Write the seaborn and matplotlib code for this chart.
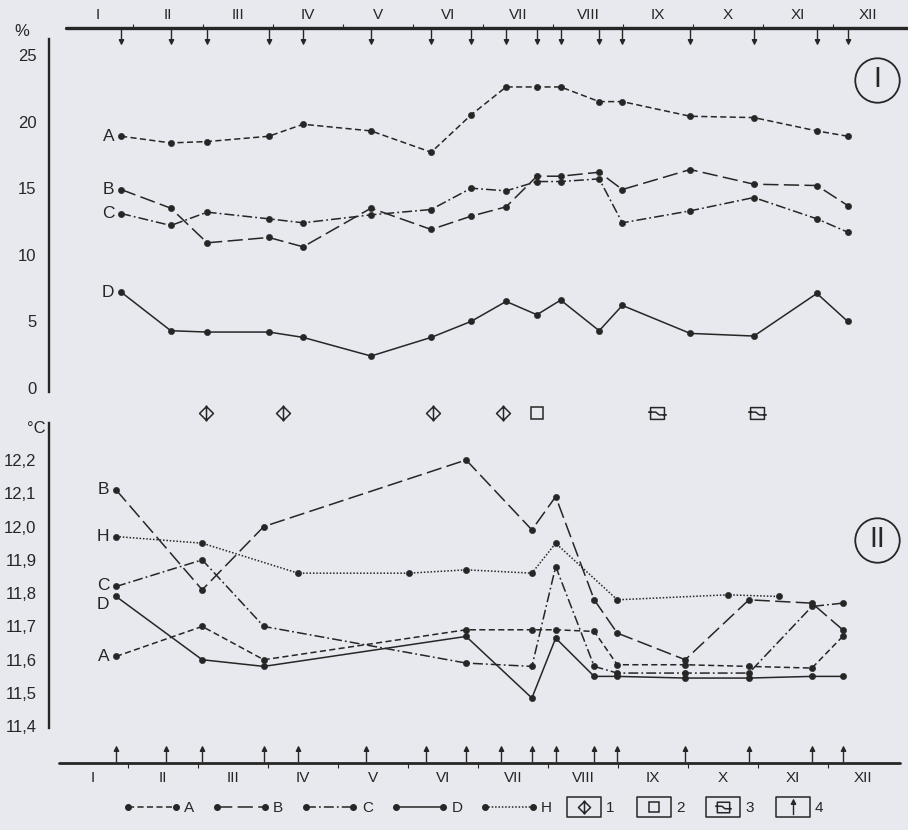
import numpy as np
import pandas as pd
import matplotlib
matplotlib.use("Agg")
import matplotlib.pyplot as plt
import seaborn as sns
from matplotlib.path import Path
from matplotlib.lines import Line2D
from matplotlib.legend_handler import HandlerTuple

sns.set_theme(style="white")
plt.rcParams['font.family'] = ['Liberation Sans', 'DejaVu Sans']

# sampling dates, in months from 1 January
sample_months = [0.83, 1.54, 2.06, 2.94, 3.43, 4.40, 5.26, 5.83, 6.33,
                 6.77, 7.11, 7.66, 7.99, 8.96, 9.87, 10.77, 11.21]
month_names = ['I', 'II', 'III', 'IV', 'V', 'VI', 'VII', 'VIII', 'IX', 'X', 'XI', 'XII']

# panel I  (%)
top_A = [18.9, 18.4, 18.5, 18.9, 19.8, 19.3, 17.7, 20.5, 22.6, 22.6, 22.6, 21.5, 21.5, 20.4, 20.3, 19.3, 18.9]
top_B = [14.9, 13.5, 10.9, 11.3, 10.6, 13.5, 11.9, 12.9, 13.6, 15.9, 15.9, 16.2, 14.9, 16.4, 15.3, 15.2, 13.7]
top_C = [13.1, 12.2, 13.2, 12.7, 12.4, 13.0, 13.4, 15.0, 14.8, 15.5, 15.5, 15.7, 12.4, 13.3, 14.3, 12.7, 11.7]
top_D = [7.2, 4.3, 4.2, 4.2, 3.8, 2.4, 3.8, 5.0, 6.5, 5.5, 6.6, 4.3, 6.2, 4.1, 3.9, 7.1, 5.0]

# panel II  (deg C), A-D on a subset of the dates, H on its own dates
bottom_idx = [0, 2, 3, 7, 9, 10, 11, 12, 13, 14, 15, 16]
bot_A = [11.61, 11.70, 11.60, 11.69, 11.69, 11.69, 11.685, 11.585, 11.585, 11.58, 11.575, 11.67]
bot_B = [12.11, 11.81, 12.00, 12.20, 11.99, 12.09, 11.78, 11.68, 11.60, 11.78, 11.77, 11.69]
bot_C = [11.82, 11.90, 11.70, 11.59, 11.58, 11.88, 11.58, 11.56, 11.56, 11.56, 11.76, 11.77]
bot_D = [11.79, 11.60, 11.58, 11.67, 11.485, 11.665, 11.55, 11.55, 11.545, 11.545, 11.55, 11.55]
h_months = [0.83, 2.06, 3.43, 5.01, 5.83, 6.77, 7.11, 7.99, 9.57, 10.30]
h_vals = [11.97, 11.95, 11.86, 11.86, 11.87, 11.86, 11.95, 11.78, 11.795, 11.79]

# events between the panels
event1 = [2.04, 3.14, 5.29, 6.29]
event2 = [6.77]
event3 = [8.49, 9.91]

BG = '#e8e9ef'
INK = '#262626'
DASHES = {'A': (4, 2.2), 'B': (10, 3.5), 'C': (6.5, 2, 1.2, 2), 'D': '', 'H': (1, 1.2)}
MARKERS = {k: 'o' for k in DASHES}


def make_path(parts):
    verts, codes = [], []
    for pts, closed in parts:
        verts += pts
        codes += [Path.MOVETO] + [Path.LINETO] * (len(pts) - 1)
        if closed:
            verts.append(pts[0])
            codes.append(Path.CLOSEPOLY)
    return Path(verts, codes)


def arrow(up=True):
    s = 1 if up else -1
    return make_path([([(0, -s), (0, 0.5 * s)], False),
                      ([(-0.28, 0.42 * s), (0, s), (0.28, 0.42 * s)], True)])


diamond_bar = make_path([([(0, -1), (1, 0), (0, 1), (-1, 0)], True),
                         ([(0, -1.15), (0, 1.15)], False)])
box_wave = make_path([([(-1, -0.85), (1, -0.85), (1, 0.85), (-1, 0.85)], True),
                      ([(-1.35, 0.2), (-0.25, 0.2), (0.25, -0.2), (1.35, -0.2)], False)])
legend_box = make_path([([(-1.75, -1), (1.75, -1), (1.75, 1), (-1.75, 1)], True)])

W, H = 908, 830
fig = plt.figure(figsize=(W / 100, H / 100), dpi=100)
fig.patch.set_facecolor(BG)


def px_axes(x0, y0, x1, y1):
    ax = fig.add_axes([x0 / W, 1 - y1 / H, (x1 - x0) / W, (y1 - y0) / H])
    ax.set_facecolor('none')
    return ax


def month_xlim(ax, origin):
    # 70 px per month, month 0 at pixel `origin`
    ax.set_xlim((49 - origin) / 70, (908 - origin) / 70)


def long_df(series):
    rows = []
    for name, (x, vals) in series.items():
        rows += [(m, v, name) for m, v in zip(x, vals)]
    return pd.DataFrame(rows, columns=['month', 'value', 'series'])


def draw_series(ax, df, offsets):
    sns.lineplot(data=df, x='month', y='value', style='series', dashes=DASHES,
                 markers=MARKERS, color=INK, lw=1.1, markersize=4.5,
                 markeredgecolor=INK, markeredgewidth=0.4, estimator=None,
                 sort=False, legend=False, ax=ax)
    for name, g in df.groupby('series'):
        dx, dy = offsets.get(name, (-5, 0))
        ax.annotate(name, (g['month'].iloc[0], g['value'].iloc[0]), xytext=(dx, dy),
                    textcoords='offset points', ha='right', va='center',
                    fontsize=12.5, color=INK)


def style_panel(ax):
    for s in ['top', 'right', 'bottom']:
        ax.spines[s].set_visible(False)
    ax.spines['left'].set_linewidth(1.7)
    ax.spines['left'].set_color(INK)
    ax.set_xticks([])
    ax.set_xlabel('')
    ax.set_ylabel('')
    ax.tick_params(axis='y', length=0, pad=9, labelsize=12, labelcolor=INK)


# ---- panel I
ax1 = px_axes(49, 39, 908, 392)
df_top = long_df({'A': (sample_months, top_A), 'B': (sample_months, top_B),
                  'C': (sample_months, top_C), 'D': (sample_months, top_D)})
draw_series(ax1, df_top, {})
ax1.set_ylim(-0.3, 26.2)
ax1.set_yticks(np.arange(0, 26, 5))
style_panel(ax1)
month_xlim(ax1, 63)

# ---- panel II
ax2 = px_axes(49, 423, 908, 728)
bm = [sample_months[i] for i in bottom_idx]
df_bot = long_df({'A': (bm, bot_A), 'B': (bm, bot_B), 'C': (bm, bot_C),
                  'D': (bm, bot_D), 'H': (h_months, h_vals)})
draw_series(ax2, df_bot, {'D': (-5, -6), 'C': (-5, 1)})
ax2.set_ylim(11.395, 12.311)
yt = np.round(np.arange(11.4, 12.25, 0.1), 1)
ax2.set_yticks(yt)
ax2.set_yticklabels([f"{v:.1f}".replace('.', ',') for v in yt])
style_panel(ax2)
month_xlim(ax2, 58)

fig.text(22 / W, 1 - 32 / H, '%', ha='center', va='center', fontsize=12, color=INK)
fig.text(36 / W, 1 - 428 / H, '°C', ha='center', va='center', fontsize=12, color=INK)

# ---- month strip on top
ts = px_axes(49, 0, 908, 46)
month_xlim(ts, 63)
ts.set_ylim(46, 0)
ts.axis('off')
ts.axhline(28, xmin=(66 - 49) / 859, xmax=1, color=INK, lw=2.4)
ts.vlines(np.arange(1, 12), 24, 28, color=INK, lw=0.8)
for i, lab in enumerate(month_names):
    ts.text(i + 0.5, 15, lab, ha='center', va='center', fontsize=11, color=INK)
ts.plot(sample_months, [36] * len(sample_months), ls='none', marker=arrow(up=False),
        ms=11, color=INK, mec=INK, mew=1.0)

# ---- month strip at the bottom
bs = px_axes(49, 738, 908, 792)
month_xlim(bs, 58)
bs.set_ylim(792, 738)
bs.axis('off')
bs.axhline(763, xmin=(59 - 49) / 859, xmax=(900 - 49) / 859, color=INK, lw=2.0)
bs.vlines(np.arange(1, 12), 763, 768, color=INK, lw=0.8)
for i, lab in enumerate(month_names):
    bs.text(i + 0.5, 778, lab, ha='center', va='center', fontsize=11, color=INK)
bs.plot(sample_months, [754] * len(sample_months), ls='none', marker=arrow(up=True),
        ms=11, color=INK, mec=INK, mew=1.0)

# ---- events between panels
es = px_axes(49, 395, 908, 432)
month_xlim(es, 63)
es.set_ylim(432, 395)
es.axis('off')
ev_kw = dict(ls='none', color=INK, mfc='none', mec=INK, mew=1.1)
es.plot(event1, [413] * len(event1), marker=diamond_bar, ms=11.5, **ev_kw)
es.plot(event2, [413] * len(event2), marker='s', ms=8, **ev_kw)
es.plot(event3, [413] * len(event3), marker=box_wave, ms=13.5, **ev_kw)

# ---- circled panel numbers
for yy, txt in [(80, 'I'), (540, 'II')]:
    fig.add_artist(Line2D([877 / W], [1 - yy / H], marker='o', ms=32, mfc='none',
                          mec=INK, mew=1.3, transform=fig.transFigure))
    fig.text(877 / W, 1 - yy / H, txt, ha='center', va='center', fontsize=19,
             color=INK, family='DejaVu Sans')

# ---- legends
line_handles = []
for name in ['A', 'B', 'C', 'D', 'H']:
    ls = '-' if DASHES[name] == '' else (0, DASHES[name])
    line_handles.append(Line2D([], [], color=INK, lw=1.1, ls=ls, marker='o', ms=4,
                               mec=INK))
fig.legend(line_handles, ['A', 'B', 'C', 'D', 'H'], loc='center',
           bbox_to_anchor=(338 / W, 1 - 808 / H), ncol=5, frameon=False,
           numpoints=2, handlelength=3.7, handletextpad=0.25,
           columnspacing=1.2, fontsize=11, labelcolor=INK)

box = dict(ls='none', marker=legend_box, ms=25, mfc='none', mec=INK, mew=1.1)
sym = dict(ls='none', mfc='none', mec=INK, mew=1.1, color=INK)
ev_handles = [
    (Line2D([], [], **box), Line2D([], [], marker=diamond_bar, ms=10, **sym)),
    (Line2D([], [], **box), Line2D([], [], marker='s', ms=7, **sym)),
    (Line2D([], [], **box), Line2D([], [], marker=box_wave, ms=12, **sym)),
    (Line2D([], [], **box), Line2D([], [], marker=arrow(up=True), ms=11,
                                   ls='none', color=INK, mec=INK, mew=1.0)),
]
fig.legend(ev_handles, ['1', '2', '3', '4'], loc='center',
           bbox_to_anchor=(695 / W, 1 - 808 / H), ncol=4, frameon=False,
           numpoints=1, handlelength=2.3, handletextpad=0.3, columnspacing=1.4,
           fontsize=11, labelcolor=INK,
           handler_map={tuple: HandlerTuple(ndivide=1, pad=0)})

fig.savefig('out.png', dpi=100, facecolor=BG)
